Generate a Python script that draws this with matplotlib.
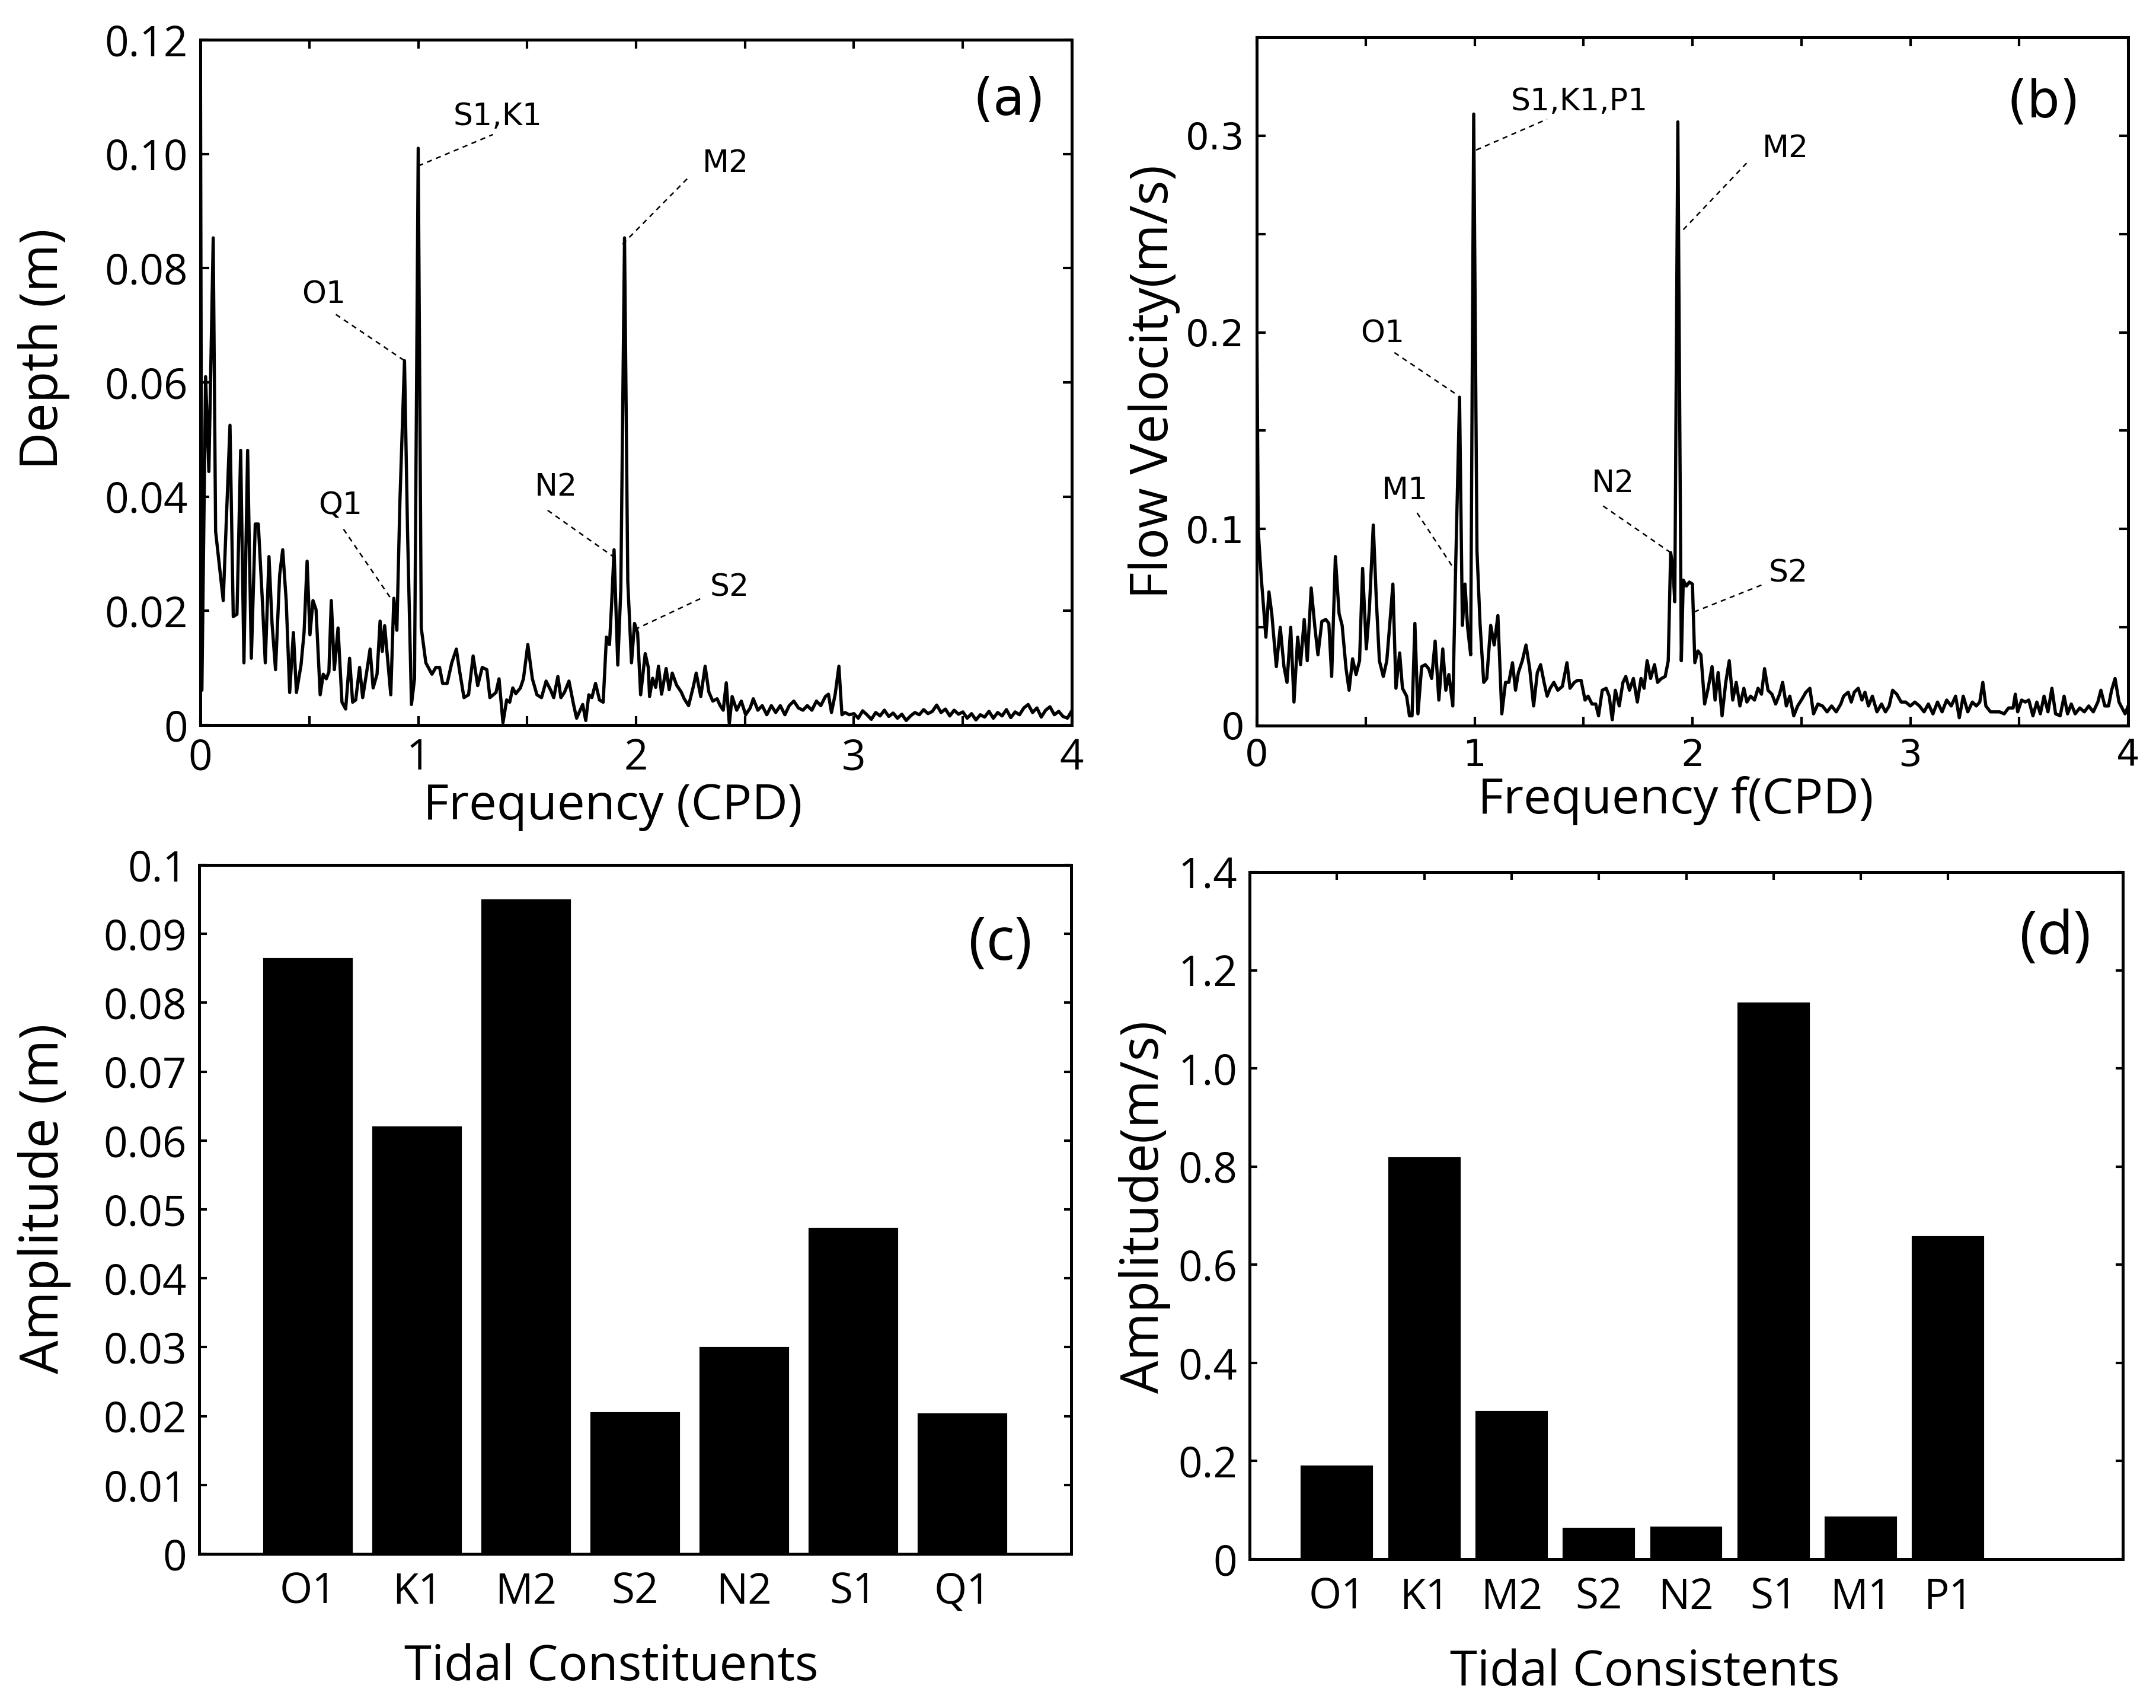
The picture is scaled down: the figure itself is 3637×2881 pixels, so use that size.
import matplotlib
matplotlib.use("Agg")
import matplotlib.pyplot as plt
import numpy as np

plt.rcParams['font.family'] = ['Open Sans', 'DejaVu Sans']
ROUND_FONT = ['DejaVu Sans']

# ---------------- data ----------------
# panel (a): depth amplitude spectrum (frequency CPD, amplitude m)
spec_depth = [
    (0.000, 0.125), (0.007, 0.0061), (0.024, 0.0610), (0.039, 0.0444), (0.059, 0.0853),
    (0.070, 0.0339), (0.105, 0.0218), (0.136, 0.0525), (0.151, 0.0190), (0.168, 0.0194),
    (0.185, 0.0481), (0.200, 0.0109), (0.217, 0.0481), (0.234, 0.0117), (0.252, 0.0352),
    (0.266, 0.0352), (0.284, 0.0222), (0.298, 0.0109), (0.315, 0.0295), (0.329, 0.0178),
    (0.345, 0.0097), (0.364, 0.0263), (0.378, 0.0307), (0.394, 0.0218), (0.410, 0.0057),
    (0.427, 0.0162), (0.441, 0.0057), (0.462, 0.0105), (0.476, 0.0162), (0.490, 0.0287),
    (0.503, 0.0158), (0.517, 0.0218), (0.531, 0.0202), (0.550, 0.0053), (0.564, 0.0089),
    (0.578, 0.0081), (0.590, 0.0093), (0.601, 0.0218), (0.615, 0.0097), (0.632, 0.0170),
    (0.650, 0.0040), (0.667, 0.0028), (0.685, 0.0117), (0.699, 0.0040), (0.713, 0.0044),
    (0.731, 0.0101), (0.745, 0.0048), (0.762, 0.0089), (0.779, 0.0133), (0.793, 0.0065),
    (0.811, 0.0089), (0.825, 0.0182), (0.835, 0.0129), (0.846, 0.0174), (0.860, 0.0113),
    (0.874, 0.0053), (0.888, 0.0222), (0.902, 0.0166), (0.916, 0.0392), (0.937, 0.0638),
    (0.951, 0.0339), (0.969, 0.0036), (0.983, 0.0081), (1.000, 0.1010), (1.014, 0.0170),
    (1.035, 0.0109), (1.063, 0.0089), (1.081, 0.0101), (1.098, 0.0101), (1.112, 0.0073),
    (1.133, 0.0073), (1.154, 0.0109), (1.175, 0.0133), (1.189, 0.0097), (1.210, 0.0048),
    (1.231, 0.0053), (1.252, 0.0121), (1.273, 0.0069), (1.294, 0.0101), (1.315, 0.0097),
    (1.329, 0.0048), (1.357, 0.0057), (1.371, 0.0081), (1.389, 0.0004), (1.406, 0.0044),
    (1.420, 0.0040), (1.434, 0.0065), (1.448, 0.0055), (1.469, 0.0065), (1.483, 0.0081),
    (1.503, 0.0141), (1.524, 0.0081), (1.545, 0.0053), (1.566, 0.0048), (1.587, 0.0077),
    (1.608, 0.0061), (1.622, 0.0048), (1.641, 0.0085), (1.655, 0.0048), (1.671, 0.0057),
    (1.692, 0.0077), (1.713, 0.0036), (1.727, 0.0012), (1.741, 0.0024), (1.755, 0.0036),
    (1.769, 0.0008), (1.783, 0.0053), (1.797, 0.0048), (1.814, 0.0073), (1.832, 0.0044),
    (1.849, 0.0040), (1.864, 0.0154), (1.878, 0.0141), (1.888, 0.0214), (1.899, 0.0307),
    (1.916, 0.0105), (1.930, 0.0238), (1.947, 0.0853), (1.962, 0.0251), (1.979, 0.0109),
    (1.993, 0.0178), (2.007, 0.0162), (2.021, 0.0053), (2.042, 0.0125), (2.056, 0.0101),
    (2.062, 0.0050), (2.076, 0.0082), (2.090, 0.0066), (2.103, 0.0103), (2.117, 0.0054),
    (2.138, 0.0099), (2.152, 0.0062), (2.166, 0.0091), (2.186, 0.0070), (2.207, 0.0058),
    (2.221, 0.0046), (2.241, 0.0034), (2.262, 0.0066), (2.276, 0.0091), (2.297, 0.0050),
    (2.317, 0.0103), (2.334, 0.0058), (2.352, 0.0042), (2.372, 0.0046), (2.386, 0.0034),
    (2.400, 0.0026), (2.414, 0.0074), (2.428, 0.0002), (2.441, 0.0050), (2.462, 0.0026),
    (2.483, 0.0042), (2.503, 0.0018), (2.524, 0.0030), (2.538, 0.0046), (2.559, 0.0026),
    (2.579, 0.0034), (2.600, 0.0018), (2.621, 0.0034), (2.641, 0.0022), (2.662, 0.0034),
    (2.683, 0.0018), (2.703, 0.0034), (2.724, 0.0042), (2.745, 0.0030), (2.766, 0.0026),
    (2.786, 0.0034), (2.807, 0.0026), (2.828, 0.0042), (2.848, 0.0034), (2.869, 0.0050),
    (2.883, 0.0054), (2.897, 0.0022), (2.914, 0.0054), (2.931, 0.0103), (2.945, 0.0018),
    (2.959, 0.0022), (2.979, 0.0018), (3.000, 0.0020), (3.020, 0.0012), (3.040, 0.0025),
    (3.060, 0.0018), (3.080, 0.0010), (3.100, 0.0022), (3.120, 0.0016), (3.140, 0.0026),
    (3.160, 0.0015), (3.180, 0.0021), (3.200, 0.0012), (3.220, 0.0019), (3.240, 0.0008),
    (3.260, 0.0016), (3.280, 0.0022), (3.300, 0.0018), (3.320, 0.0027), (3.340, 0.0020),
    (3.360, 0.0024), (3.380, 0.0035), (3.400, 0.0022), (3.420, 0.0028), (3.440, 0.0016),
    (3.460, 0.0026), (3.480, 0.0019), (3.500, 0.0023), (3.520, 0.0012), (3.540, 0.0020),
    (3.560, 0.0009), (3.580, 0.0018), (3.600, 0.0014), (3.620, 0.0024), (3.640, 0.0012),
    (3.660, 0.0022), (3.680, 0.0016), (3.700, 0.0027), (3.720, 0.0013), (3.740, 0.0023),
    (3.760, 0.0018), (3.780, 0.0030), (3.800, 0.0036), (3.820, 0.0022), (3.840, 0.0030),
    (3.860, 0.0014), (3.880, 0.0026), (3.900, 0.0032), (3.920, 0.0018), (3.940, 0.0024),
    (3.960, 0.0015), (3.980, 0.0012), (4.000, 0.0025),
]

# panel (b): flow velocity amplitude spectrum (frequency CPD, amplitude m/s)
spec_velocity = [
    (0.000, 0.211), (0.007, 0.099), (0.021, 0.075), (0.042, 0.045), (0.056, 0.068),
    (0.069, 0.057), (0.090, 0.030), (0.108, 0.050), (0.125, 0.030), (0.139, 0.022),
    (0.156, 0.050), (0.171, 0.012), (0.188, 0.045), (0.201, 0.031), (0.218, 0.054),
    (0.232, 0.033), (0.250, 0.070), (0.267, 0.050), (0.281, 0.036), (0.299, 0.053),
    (0.317, 0.054), (0.331, 0.052), (0.344, 0.025), (0.361, 0.086), (0.378, 0.057),
    (0.392, 0.051), (0.410, 0.029), (0.424, 0.018), (0.440, 0.034), (0.456, 0.026),
    (0.472, 0.033), (0.486, 0.080), (0.503, 0.039), (0.517, 0.059), (0.535, 0.102),
    (0.549, 0.064), (0.563, 0.033), (0.581, 0.025), (0.597, 0.033), (0.611, 0.052),
    (0.625, 0.072), (0.639, 0.019), (0.656, 0.037), (0.669, 0.019), (0.688, 0.015),
    (0.701, 0.005), (0.713, 0.005), (0.726, 0.052), (0.740, 0.006), (0.757, 0.030),
    (0.774, 0.031), (0.789, 0.029), (0.803, 0.024), (0.819, 0.043), (0.836, 0.013),
    (0.854, 0.039), (0.868, 0.018), (0.882, 0.026), (0.900, 0.010), (0.913, 0.080),
    (0.931, 0.167), (0.944, 0.051), (0.956, 0.072), (0.968, 0.050), (0.982, 0.036),
    (0.996, 0.311), (1.011, 0.089), (1.025, 0.052), (1.042, 0.022), (1.056, 0.024),
    (1.074, 0.051), (1.090, 0.041), (1.107, 0.056), (1.125, 0.006), (1.142, 0.022),
    (1.157, 0.022), (1.174, 0.032), (1.188, 0.018), (1.201, 0.027), (1.219, 0.033),
    (1.236, 0.041), (1.253, 0.029), (1.271, 0.010), (1.288, 0.027), (1.303, 0.031),
    (1.319, 0.022), (1.333, 0.015), (1.347, 0.019), (1.364, 0.022), (1.382, 0.018),
    (1.403, 0.020), (1.424, 0.032), (1.438, 0.019), (1.458, 0.022), (1.472, 0.023),
    (1.489, 0.023), (1.507, 0.013), (1.521, 0.015), (1.539, 0.011), (1.556, 0.011),
    (1.569, 0.005), (1.586, 0.018), (1.604, 0.019), (1.618, 0.015), (1.632, 0.003),
    (1.646, 0.018), (1.664, 0.010), (1.681, 0.022), (1.694, 0.025), (1.711, 0.018),
    (1.729, 0.024), (1.747, 0.012), (1.764, 0.024), (1.778, 0.019), (1.792, 0.033),
    (1.808, 0.024), (1.826, 0.031), (1.840, 0.022), (1.858, 0.024), (1.875, 0.025),
    (1.889, 0.033), (1.900, 0.088), (1.910, 0.081), (1.919, 0.063), (1.933, 0.307),
    (1.949, 0.033), (1.958, 0.074), (1.972, 0.071), (1.986, 0.073), (2.000, 0.072),
    (2.011, 0.032), (2.025, 0.038), (2.039, 0.036), (2.056, 0.011), (2.072, 0.019),
    (2.090, 0.030), (2.104, 0.013), (2.118, 0.027), (2.136, 0.005), (2.153, 0.022),
    (2.169, 0.033), (2.185, 0.013), (2.201, 0.022), (2.218, 0.010), (2.236, 0.019),
    (2.250, 0.012), (2.267, 0.015), (2.285, 0.013), (2.301, 0.019), (2.317, 0.016),
    (2.331, 0.029), (2.347, 0.018), (2.365, 0.016), (2.382, 0.011), (2.400, 0.016),
    (2.414, 0.022), (2.431, 0.010), (2.447, 0.015), (2.465, 0.005), (2.483, 0.010),
    (2.500, 0.013), (2.521, 0.017), (2.539, 0.019), (2.556, 0.006), (2.576, 0.011),
    (2.597, 0.010), (2.618, 0.007), (2.639, 0.010), (2.660, 0.007), (2.681, 0.011),
    (2.694, 0.015), (2.715, 0.017), (2.729, 0.012), (2.743, 0.017), (2.761, 0.019),
    (2.778, 0.013), (2.792, 0.017), (2.808, 0.010), (2.826, 0.015), (2.847, 0.007),
    (2.868, 0.011), (2.886, 0.007), (2.903, 0.010), (2.919, 0.018), (2.938, 0.016),
    (2.958, 0.012), (2.979, 0.012), (3.000, 0.010), (3.021, 0.012), (3.042, 0.010),
    (3.063, 0.007), (3.083, 0.011), (3.104, 0.006), (3.125, 0.012), (3.146, 0.007),
    (3.167, 0.013), (3.188, 0.010), (3.208, 0.015), (3.225, 0.004), (3.243, 0.015),
    (3.264, 0.007), (3.285, 0.012), (3.303, 0.010), (3.319, 0.012), (3.333, 0.022),
    (3.347, 0.010), (3.368, 0.007), (3.389, 0.007), (3.410, 0.007), (3.431, 0.006),
    (3.451, 0.009), (3.472, 0.009), (3.482, 0.016), (3.493, 0.007), (3.511, 0.013),
    (3.528, 0.012), (3.544, 0.013), (3.563, 0.005), (3.581, 0.012), (3.597, 0.006),
    (3.614, 0.015), (3.632, 0.007), (3.650, 0.019), (3.667, 0.006), (3.688, 0.005),
    (3.706, 0.015), (3.722, 0.006), (3.739, 0.011), (3.757, 0.006), (3.778, 0.009),
    (3.799, 0.007), (3.819, 0.010), (3.840, 0.007), (3.861, 0.012), (3.875, 0.018),
    (3.893, 0.010), (3.910, 0.010), (3.924, 0.018), (3.940, 0.024), (3.958, 0.012),
    (3.972, 0.009), (3.986, 0.006), (4.000, 0.010),
]

# panel (c): depth constituent amplitudes (m)
const_c = ["O1", "K1", "M2", "S2", "N2", "S1", "Q1"]
amp_c = [0.0863, 0.0619, 0.0948, 0.0204, 0.0299, 0.0472, 0.0202]

# panel (d): velocity constituent amplitudes (m/s)
const_d = ["O1", "K1", "M2", "S2", "N2", "S1", "M1", "P1"]
amp_d = [0.189, 0.816, 0.300, 0.062, 0.064, 1.132, 0.084, 0.656]

# peak labels: (text, text centre, leader start, leader end)
labels_a = [
    ("S1,K1", (1.364, 0.1065), (1.000, 0.0979), (1.343, 0.1034)),
    ("O1", (0.566, 0.0753), (0.622, 0.0719), (0.937, 0.0638)),
    ("Q1", (0.642, 0.0384), (0.657, 0.0343), (0.881, 0.0218)),
    ("N2", (1.634, 0.0416), (1.594, 0.0376), (1.895, 0.0295)),
    ("M2", (2.412, 0.0983), (1.938, 0.0842), (2.241, 0.0959)),
    ("S2", (2.428, 0.0240), (1.993, 0.0167), (2.310, 0.0224)),
]
labels_b = [
    ("S1,K1,P1", (1.482, 0.317), (1.007, 0.2927), (1.333, 0.3084)),
    ("O1", (0.576, 0.199), (0.632, 0.1897), (0.924, 0.1679)),
    ("M1", (0.681, 0.1194), (0.736, 0.1082), (0.917, 0.0778)),
    ("N2", (1.635, 0.123), (1.590, 0.1117), (1.896, 0.0883)),
    ("M2", (2.426, 0.2932), (1.958, 0.2522), (2.250, 0.2862)),
    ("S2", (2.440, 0.0773), (2.007, 0.0578), (2.326, 0.0719)),
]

# ---------------- figure ----------------
W, H = 3637, 2881
fig = plt.figure(figsize=(W / 300, H / 300), dpi=300)

TICK_FS = 17
LABEL_FS = 20
YLABEL_FS = 21
ANN_FS = 12.5
PANEL_FS = 24


def style_axes(ax, ticklen=3.5):
    for sp in ax.spines.values():
        sp.set_linewidth(1.2)
    ax.tick_params(which='both', direction='in', top=True, right=True,
                   length=ticklen, width=1.0, labelsize=TICK_FS, pad=5)


def place_labels(ax, xfrac, yfrac):
    ax.xaxis.label.set_x(xfrac)
    ax.yaxis.label.set_y(yfrac)


def spectrum(ax, data, ylim, yticks, ylabels, ylab, xlab, labels, panel, panel_pos,
             tick_font=None, tick_fs=TICK_FS, ylabelpad=10, xlabelpad=2):
    f = [p[0] for p in data]
    a = [p[1] for p in data]
    ax.plot(f, a, color='black', lw=1.3)
    ax.set_xlim(0, 4)
    ax.set_ylim(*ylim)
    ax.set_xticks(np.arange(0, 4.01, 0.5))
    ax.set_xticklabels(['0', '', '1', '', '2', '', '3', '', '4'])
    ax.set_yticks(yticks)
    ax.set_yticklabels(ylabels)
    style_axes(ax)
    ax.tick_params(labelsize=tick_fs)
    if tick_font is not None:
        for lbl in ax.get_xticklabels() + ax.get_yticklabels():
            lbl.set_family(tick_font)
    ax.set_xlabel(xlab, fontsize=LABEL_FS, labelpad=xlabelpad)
    ax.set_ylabel(ylab, fontsize=YLABEL_FS, labelpad=ylabelpad)
    for txt, tpos, p0, p1 in labels:
        ax.plot([p0[0], p1[0]], [p0[1], p1[1]], color='black', lw=0.6,
                linestyle=(0, (3.5, 3)))
        ax.text(tpos[0], tpos[1], txt, fontsize=ANN_FS, ha='center', va='center',
                family=ROUND_FONT)
    ax.text(panel_pos[0], panel_pos[1], panel, fontsize=21, ha='center', va='center',
            family=ROUND_FONT)


ax_a = fig.add_axes([338 / W, 1 - 1223 / H, 1470 / W, 1156 / H])
spectrum(ax_a, spec_depth, (0, 0.12), np.arange(0, 0.1201, 0.02),
         ['0', '0.02', '0.04', '0.06', '0.08', '0.10', '0.12'],
         'Depth (m)', 'Frequency (CPD)', labels_a, '(a)', (3.713, 0.1093),
         ylabelpad=14, xlabelpad=1)
place_labels(ax_a, 0.473, 0.549)

ax_b = fig.add_axes([2120 / W, 1 - 1224 / H, 1470 / W, 1161 / H])
spectrum(ax_b, spec_velocity, (0, 0.35), np.arange(0, 0.3501, 0.05),
         ['0', '', '0.1', '', '0.2', '', '0.3', ''],
         'Flow Velocity(m/s)', 'Frequency f(CPD)', labels_b, '(b)', (3.611, 0.3166),
         tick_font=ROUND_FONT, tick_fs=15, ylabelpad=2, xlabelpad=1)
place_labels(ax_b, 0.481, 0.50)

# panel (c)
ax_c = fig.add_axes([336 / W, 1 - 2621 / H, 1471 / W, 1162 / H])
xc = np.arange(1, len(const_c) + 1)
ax_c.bar(xc, amp_c, width=0.8, color='black', edgecolor='black')
ax_c.set_xlim(0, 8)
ax_c.set_ylim(0, 0.1)
ax_c.set_xticks(xc)
ax_c.set_xticklabels(const_c)
ax_c.set_yticks(np.arange(0, 0.1001, 0.01))
ax_c.set_yticklabels(['0', '0.01', '0.02', '0.03', '0.04', '0.05', '0.06', '0.07',
                      '0.08', '0.09', '0.1'])
style_axes(ax_c, ticklen=3)
ax_c.tick_params(axis='x', length=0, pad=7)
ax_c.set_xlabel('Tidal Constituents', fontsize=LABEL_FS, labelpad=12)
ax_c.set_ylabel('Amplitude (m)', fontsize=YLABEL_FS + 0.5, labelpad=13)
place_labels(ax_c, 0.473, 0.516)
ax_c.text(7.35, 0.0885, '(c)', fontsize=PANEL_FS, ha='center', va='center')

# panel (d)
ax_d = fig.add_axes([2108 / W, 1 - 2630 / H, 1473 / W, 1159 / H])
xd = np.arange(1, len(const_d) + 1)
ax_d.bar(xd, amp_d, width=0.8, color='black', edgecolor='black')
ax_d.set_xlim(0, 10)
ax_d.set_ylim(0, 1.4)
ax_d.set_xticks(xd)
ax_d.set_xticklabels(const_d)
ax_d.set_yticks(np.arange(0, 1.401, 0.2))
ax_d.set_yticklabels(['0', '0.2', '0.4', '0.6', '0.8', '1.0', '1.2', '1.4'])
style_axes(ax_d, ticklen=3)
ax_d.tick_params(axis='x', pad=7)
ax_d.set_xlabel('Tidal Consistents', fontsize=LABEL_FS, labelpad=12)
ax_d.set_ylabel('Amplitude(m/s)', fontsize=YLABEL_FS, labelpad=3)
place_labels(ax_d, 0.453, 0.513)
ax_d.text(9.23, 1.265, '(d)', fontsize=PANEL_FS, ha='center', va='center')

fig.savefig('out.png', dpi=300)
